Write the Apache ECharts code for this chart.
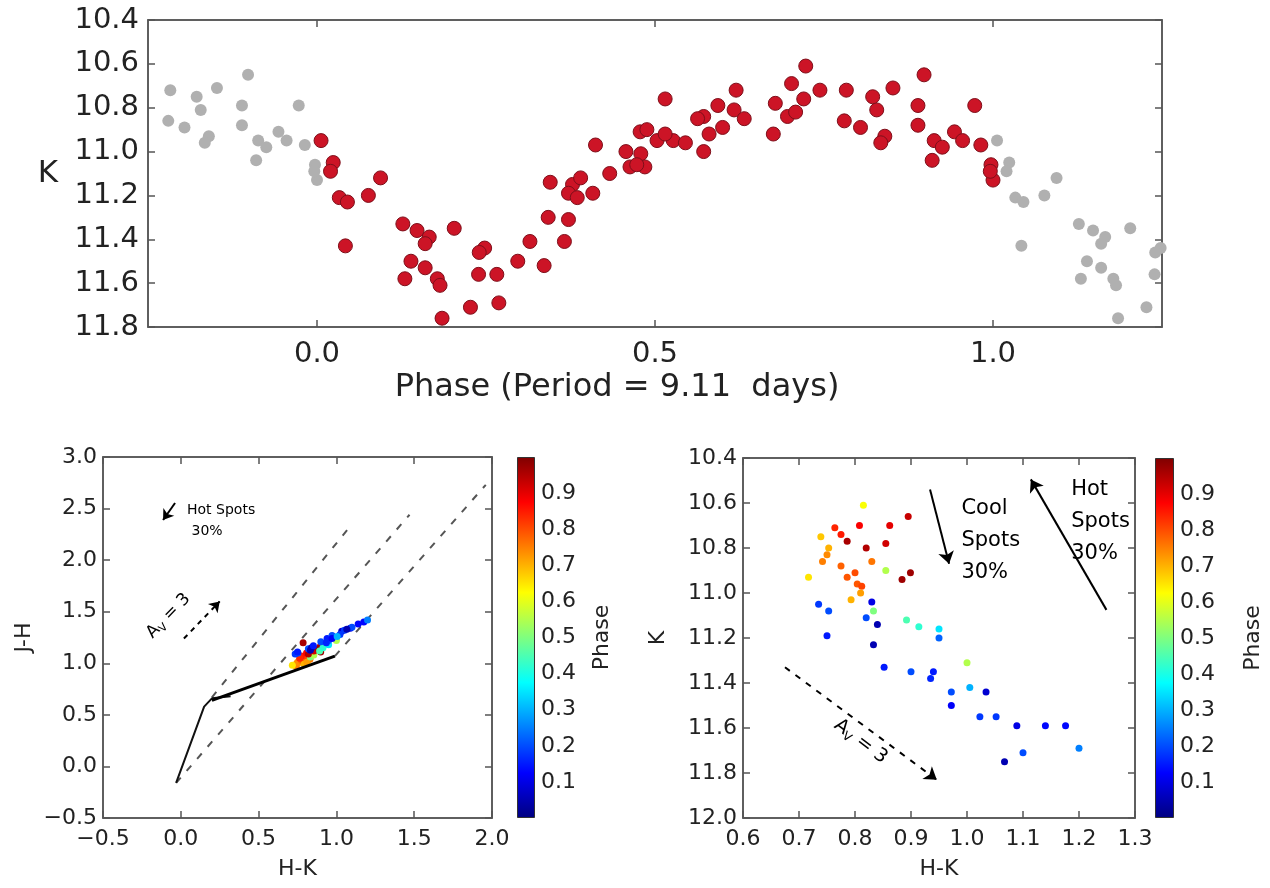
<!DOCTYPE html>
<html><head><meta charset="utf-8">
<script src="https://cdn.jsdelivr.net/npm/echarts@6/dist/echarts.min.js"></script>
<style>html,body{margin:0;padding:0;background:#fff}#c{width:1270px;height:888px}</style>
</head><body><div id="c"></div>
<script>
// ---------- DATA ----------
// light curve (red points, phase 0..1)
const lcPhase = [0.006,0.024,0.020,0.033,0.045,0.094,0.076,0.042,0.127,0.148,0.166,0.160,0.203,0.248,0.240,0.139,0.130,0.160,0.178,0.182,0.239,0.266,0.185,0.227,0.269,0.297,0.315,0.336,0.366,0.342,0.372,0.345,0.378,0.390,0.408,0.372,0.385,0.412,0.433,0.457,0.463,0.478,0.515,0.479,0.485,0.473,0.488,0.503,0.527,0.545,0.515,0.572,0.572,0.593,0.617,0.632,0.620,0.580,0.600,0.563,0.723,0.702,0.678,0.696,0.720,0.744,0.675,0.708,0.783,0.780,0.804,0.828,0.840,0.852,0.822,0.834,0.898,0.889,0.889,0.913,0.925,0.910,0.943,0.955,0.973,0.982,0.997,1.000,0.996];
const lcK = [10.95,11.05,11.09,11.21,11.23,11.12,11.20,11.43,11.33,11.36,11.39,11.42,11.35,11.44,11.46,11.50,11.58,11.53,11.58,11.61,11.56,11.56,11.76,11.71,11.69,11.50,11.41,11.52,11.41,11.30,11.31,11.14,11.15,11.12,11.19,11.19,11.21,10.97,11.10,11.00,11.07,10.91,10.76,11.01,11.07,11.06,10.90,10.95,10.95,10.96,10.92,11.00,10.84,10.79,10.81,10.85,10.72,10.92,10.89,10.85,10.61,10.69,10.78,10.84,10.76,10.72,10.92,10.82,10.72,10.86,10.89,10.81,10.93,10.71,10.75,10.96,10.65,10.79,10.88,10.95,10.98,11.04,10.91,10.95,10.79,10.97,11.06,11.13,11.09];
// colour observations (phase, H-K, K, J-H)
const obsPhase = [0.62,0.68,0.70,0.75,0.74,0.65,0.78,0.79,0.80,0.79,0.81,0.85,0.84,0.88,0.76,0.70,0.72,0.50,0.55,0.90,0.92,0.95,0.93,0.97,0.97,0.96,0.45,0.42,0.35,0.55,0.18,0.20,0.15,0.10,0.20,0.05,0.05,0.22,0.15,0.20,0.15,0.16,0.20,0.12,0.08,0.18,0.18,0.10,0.13,0.13,0.20,0.05,0.25,0.30];
const obsHK = [0.815,0.739,0.753,0.742,0.750,0.717,0.775,0.786,0.800,0.804,0.812,0.775,0.764,0.808,0.830,0.793,0.810,0.833,0.855,0.862,0.855,0.820,0.895,0.884,0.899,0.786,0.892,0.914,0.950,1.000,0.735,0.753,0.750,0.830,0.820,0.840,0.833,0.950,0.852,0.900,0.940,0.935,0.972,0.972,1.034,1.023,1.052,1.089,1.140,1.176,1.100,1.067,1.200,1.005];
const obsK = [10.61,10.75,10.80,10.86,10.83,10.93,10.88,10.93,10.91,10.96,10.97,10.74,10.71,10.70,10.86,11.03,11.00,11.08,10.90,10.70,10.78,10.80,10.66,10.94,10.91,10.77,11.12,11.15,11.16,11.31,11.05,11.08,11.19,11.04,11.11,11.14,11.23,11.20,11.33,11.35,11.35,11.38,11.44,11.50,11.44,11.55,11.55,11.59,11.59,11.59,11.71,11.75,11.69,11.42];
const obsJH = [1.02,0.99,1.00,0.97,1.01,0.98,1.03,1.04,1.06,1.02,1.05,1.07,1.05,1.10,1.04,0.99,1.01,1.06,1.08,1.13,1.12,1.09,1.16,1.14,1.11,1.20,1.12,1.15,1.18,1.22,1.09,1.10,1.11,1.13,1.14,1.15,1.13,1.22,1.17,1.21,1.24,1.20,1.27,1.24,1.31,1.28,1.32,1.34,1.38,1.40,1.35,1.33,1.42,1.26];
// loci in the colour-colour diagram
const dwarfHK = [-0.03, 0.15, 0.20, 0.32];
const dwarfJH = [-0.16, 0.58, 0.66, 0.68];
const cttsHK = [0.20, 0.99];
const cttsJH = [0.64, 1.07];
// reddening bands (start/end)
const redStartHK = [0.20, -0.03, 0.99];
const redStartJH = [0.67, -0.16, 1.07];
const redEndHK = [1.10, 1.47, 1.96];
const redEndJH = [2.35, 2.44, 2.73];
// annotation arrows
const ccArrows = [ // colour-colour panel
  {from: [-0.037, 2.554], to: [-0.114, 2.389], dashed: false},
  {from: [0.02, 1.24], to: [0.25, 1.60], dashed: true}
];
const cmArrows = [ // colour-magnitude panel
  {from: [0.934, 10.54], to: [0.968, 10.87], dashed: false},
  {from: [1.249, 11.075], to: [1.114, 10.495], dashed: false},
  {from: [0.675, 11.33], to: [0.946, 11.83], dashed: true}
];
// tick labels
const topPhaseTicks = [0.0, 0.5, 1.0];
const colorbarTicks = [0.1,0.2,0.3,0.4,0.5,0.6,0.7,0.8,0.9];
const jet = ['#00007f','#0000ff','#007fff','#00ffff','#7fff7f','#ffff00','#ff7f00','#ff0000','#7f0000'];

// ---------- STYLE ----------
const FONT = 'DejaVu Sans';
const TXT = '#222222';
const ANN = '#000000';
const FRAME = '#555555';

function axis(o) {
  const base = {
    type: 'value', splitLine: {show: false},
    axisLine: {show: true, onZero: false, lineStyle: {color: FRAME, width: 1.5}},
    axisTick: {show: true, inside: true, length: 7, lineStyle: {color: FRAME, width: 1.5}},
    axisLabel: {show: true, color: TXT, fontFamily: FONT, fontSize: 22},
    nameTextStyle: {color: TXT, fontFamily: FONT, fontSize: 22}
  };
  for (const k in o) {
    if (base[k] && typeof base[k] === 'object' && !Array.isArray(base[k]) && typeof o[k] === 'object' && !Array.isArray(o[k])) base[k] = Object.assign({}, base[k], o[k]);
    else base[k] = o[k];
  }
  return base;
}
const fmt1 = v => (v < 0 ? '\u2212' : '') + Math.abs(v).toFixed(1);

const grids = [
  {left: 148, top: 20, width: 1014, height: 307},   // 0 light curve
  {left: 103, top: 457, width: 389, height: 361},   // 1 colour-colour
  {left: 517, top: 457, width: 18, height: 361},    // 2 colorbar L
  {left: 743, top: 458, width: 392, height: 360},   // 3 colour-magnitude
  {left: 1155, top: 458, width: 19, height: 360}    // 4 colorbar R
];

const xAxes = [
  axis({gridIndex: 0, min: -0.25, max: 1.25,
    axisLabel: {customValues: topPhaseTicks, formatter: fmt1, fontSize: 29, margin: 13},
    axisTick: {customValues: topPhaseTicks},
    name: 'Phase (Period = 9.11  days)', nameLocation: 'middle', nameGap: 45,
    nameTextStyle: {fontSize: 32, padding: [0, 76, 0, 0]}}),
  axis({gridIndex: 0, position: 'top', min: -0.25, max: 1.25, axisLabel: {show: false},
    axisTick: {customValues: topPhaseTicks}}),
  axis({gridIndex: 1, min: -0.5, max: 2.0, interval: 0.5, axisLabel: {formatter: fmt1, margin: 10},
    name: 'H-K', nameLocation: 'middle', nameGap: 40}),
  axis({gridIndex: 1, position: 'top', min: -0.5, max: 2.0, interval: 0.5, axisLabel: {show: false}}),
  {gridIndex: 2, type: 'category', data: ['c'], show: false},
  axis({gridIndex: 3, min: 0.6, max: 1.3, interval: 0.1, axisLabel: {formatter: fmt1, margin: 10},
    name: 'H-K', nameLocation: 'middle', nameGap: 40}),
  axis({gridIndex: 3, position: 'top', min: 0.6, max: 1.3, interval: 0.1, axisLabel: {show: false}}),
  {gridIndex: 4, type: 'category', data: ['c'], show: false}
];

const cbAxis = (g, gap) => axis({gridIndex: g, position: 'right', min: 0, max: 1, interval: 0.1,
  axisLine: {show: false}, axisTick: {show: false},
  axisLabel: {customValues: colorbarTicks, formatter: v => v.toFixed(1), margin: 6},
  name: 'Phase', nameLocation: 'middle', nameGap: gap, nameRotate: 90});

const yAxes = [
  axis({gridIndex: 0, min: 10.4, max: 11.8, interval: 0.2, inverse: true,
    axisLabel: {formatter: fmt1, fontSize: 29, margin: 9},
    name: 'K', nameLocation: 'middle', nameGap: 90, nameRotate: 0, nameTextStyle: {fontSize: 31}}),
  axis({gridIndex: 0, position: 'right', min: 10.4, max: 11.8, interval: 0.2, inverse: true, axisLabel: {show: false}}),
  axis({gridIndex: 1, min: -0.5, max: 3.0, interval: 0.5, axisLabel: {formatter: fmt1, margin: 6},
    name: 'J-H', nameLocation: 'middle', nameGap: 68}),
  axis({gridIndex: 1, position: 'right', min: -0.5, max: 3.0, interval: 0.5, axisLabel: {show: false}}),
  cbAxis(2, 56),
  axis({gridIndex: 3, min: 10.4, max: 12.0, interval: 0.2, inverse: true, axisLabel: {formatter: fmt1, margin: 6},
    name: 'K', nameLocation: 'middle', nameGap: 74}),
  axis({gridIndex: 3, position: 'right', min: 10.4, max: 12.0, interval: 0.2, inverse: true, axisLabel: {show: false}}),
  cbAxis(4, 68)
];

// ---------- SERIES ----------
const series = [];
const red = lcPhase.map((p, i) => [p, lcK[i]]);
const grayLeft = red.map(d => [d[0] - 1, d[1]]).filter(d => d[0] > -0.27);
const grayRight = red.map(d => [d[0] + 1, d[1]]).filter(d => d[0] < 1.27);
series.push({type: 'scatter', xAxisIndex: 0, yAxisIndex: 0, data: grayLeft.concat(grayRight), symbolSize: 12,
  itemStyle: {color: '#b0b0b0', opacity: 1}, silent: true});
series.push({type: 'scatter', xAxisIndex: 0, yAxisIndex: 0, data: red, symbolSize: 14,
  itemStyle: {color: '#cc1426', borderColor: '#7e0f1a', borderWidth: 1, opacity: 1}, silent: true});

// colour-colour panel
series.push({type: 'lines', coordinateSystem: 'cartesian2d', xAxisIndex: 2, yAxisIndex: 2, silent: true,
  data: redStartHK.map((x, i) => ({coords: [[x, redStartJH[i]], [redEndHK[i], redEndJH[i]]]})),
  lineStyle: {color: '#555', width: 2, type: [7, 9], opacity: 1}});
series.push({type: 'line', xAxisIndex: 2, yAxisIndex: 2, data: dwarfHK.map((x, i) => [x, dwarfJH[i]]),
  showSymbol: false, lineStyle: {color: '#111', width: 2}, silent: true});
series.push({type: 'line', xAxisIndex: 2, yAxisIndex: 2, data: cttsHK.map((x, i) => [x, cttsJH[i]]),
  showSymbol: false, lineStyle: {color: '#000', width: 3}, silent: true});
const ccIdx = series.length;
series.push({type: 'scatter', xAxisIndex: 2, yAxisIndex: 2, symbolSize: 7, itemStyle: {opacity: 1},
  data: obsHK.map((x, i) => [x, obsJH[i], obsPhase[i]]), silent: true});
series.push({type: 'lines', coordinateSystem: 'cartesian2d', xAxisIndex: 2, yAxisIndex: 2, silent: true,
  symbol: ['none', 'arrow'], symbolSize: 10,
  data: ccArrows.map(a => ({coords: [a.from, a.to], lineStyle: {type: a.dashed ? [5, 5] : 'solid'}})),
  lineStyle: {color: '#000', width: 2, opacity: 1}});
series.push({type: 'scatter', xAxisIndex: 2, yAxisIndex: 2, symbolSize: 0, silent: true, itemStyle: {opacity: 1},
  data: [{value: [0.04, 2.58], label: {formatter: 'Hot Spots\n 30%', fontSize: 14, lineHeight: 21, align: 'left', verticalAlign: 'top'}},
         {value: [-0.08, 1.46], label: {formatter: '{a|A}{s|V}{a| = 3}', rotate: 46, align: 'center', verticalAlign: 'middle'}}],
  label: {show: true, position: 'inside', color: ANN, opacity: 1, fontFamily: FONT,
    rich: {a: {fontSize: 17, color: ANN, fontFamily: FONT}, s: {fontSize: 11, color: ANN, fontFamily: FONT, padding: [10, 0, 0, 0]}}}});

// colour-magnitude panel
const cmIdx = series.length;
series.push({type: 'scatter', xAxisIndex: 5, yAxisIndex: 5, symbolSize: 7, itemStyle: {opacity: 1},
  data: obsHK.map((x, i) => [x, obsK[i], obsPhase[i]]), silent: true});
series.push({type: 'lines', coordinateSystem: 'cartesian2d', xAxisIndex: 5, yAxisIndex: 5, silent: true,
  symbol: ['none', 'arrow'], symbolSize: 12,
  data: cmArrows.map(a => ({coords: [a.from, a.to], lineStyle: {type: a.dashed ? [6, 7] : 'solid'}})),
  lineStyle: {color: '#000', width: 2, opacity: 1}});
series.push({type: 'scatter', xAxisIndex: 5, yAxisIndex: 5, symbolSize: 0, silent: true, itemStyle: {opacity: 1},
  data: [{value: [0.99, 10.555], label: {formatter: 'Cool\nSpots\n30%', align: 'left', verticalAlign: 'top'}},
         {value: [1.186, 10.47], label: {formatter: 'Hot\nSpots\n30%', align: 'left', verticalAlign: 'top'}},
         {value: [0.81, 11.66], label: {formatter: '{a|A}{s|V}{a| = 3}', rotate: -37, align: 'center', verticalAlign: 'middle'}}],
  label: {show: true, position: 'inside', color: ANN, opacity: 1, fontFamily: FONT, fontSize: 21, lineHeight: 32,
    rich: {a: {fontSize: 19, color: ANN, fontFamily: FONT}, s: {fontSize: 12, color: ANN, fontFamily: FONT, padding: [10, 0, 0, 0]}}}});

// colorbars
const jetGrad = () => new echarts.graphic.LinearGradient(0, 1, 0, 0, jet.map((c, i) => ({offset: i / (jet.length - 1), color: c})));
[[4, 4], [7, 7]].forEach(([xi, yi]) => series.push({type: 'bar', xAxisIndex: xi, yAxisIndex: yi, data: [1],
  barWidth: '100%', silent: true, itemStyle: {color: jetGrad(), borderColor: '#333', borderWidth: 1, opacity: 1}}));

const chart = echarts.init(document.getElementById('c'), null, {renderer: 'canvas'});
chart.setOption({
  animation: false,
  backgroundColor: '#ffffff',
  grid: grids.map((g, i) => Object.assign({show: i !== 2 && i !== 4, borderColor: FRAME, borderWidth: 1.5, containLabel: false}, g)),
  xAxis: xAxes,
  yAxis: yAxes,
  visualMap: [{show: false, type: 'continuous', min: 0, max: 1, dimension: 2, seriesIndex: [ccIdx, cmIdx],
    inRange: {color: jet}}],
  series: series
});
</script>
</body></html>
